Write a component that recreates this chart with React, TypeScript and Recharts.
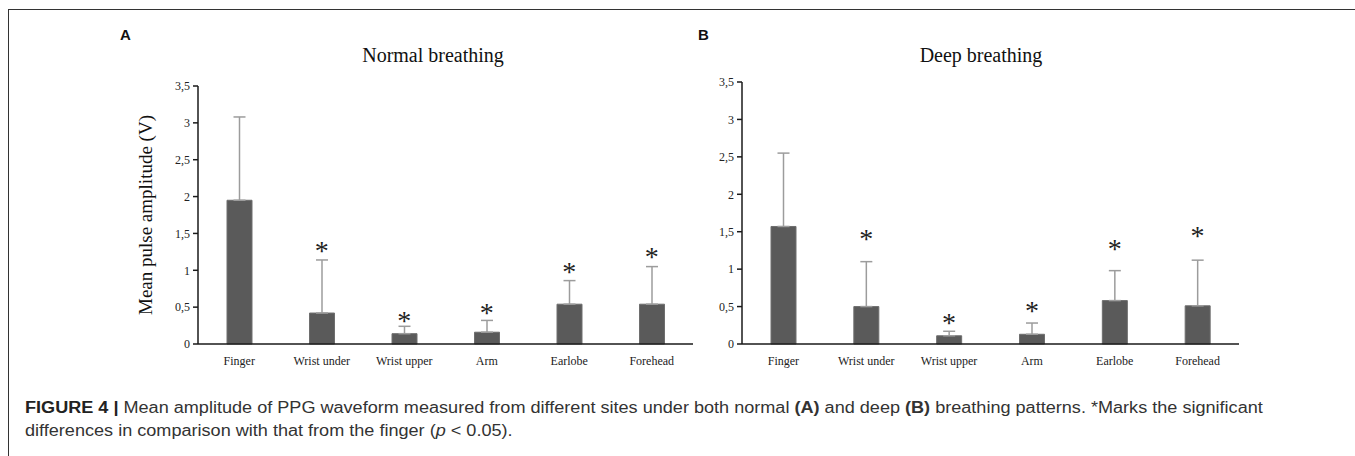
import React from "react";
import { ComposedChart, Bar, ErrorBar, Scatter, XAxis, YAxis } from "recharts";

const sites = ["Finger", "Wrist under", "Wrist upper", "Arm", "Earlobe", "Forehead"];

const normalMean = [1.95, 0.42, 0.14, 0.16, 0.54, 0.54];
const normalSd = [1.13, 0.72, 0.1, 0.16, 0.32, 0.51];
// where the "*" sits (y value of the glyph centre)
const normalStar = [null, 1.31, 0.37, 0.47, 1.03, 1.23];

const deepMean = [1.57, 0.5, 0.11, 0.13, 0.58, 0.51];
const deepSd = [0.98, 0.6, 0.06, 0.15, 0.4, 0.61];
const deepStar = [null, 1.45, 0.34, 0.49, 1.32, 1.49];

const yTicks = [0, 0.5, 1, 1.5, 2, 2.5, 3, 3.5];
const yTickLabels = ["0", "0,5", "1", "1,5", "2", "2,5", "3", "3,5"];

const SERIF = '"Liberation Serif", "Times New Roman", serif';
const SANS = '"Liberation Sans", Arial, sans-serif';
const BAR = "#5a5a5a";
const ERR = "#9c9c9c";
const AXIS = "#1a1a1a";

function buildRows(mean: number[], sd: number[], star: (number | null)[]) {
  return sites.map((name, i) => ({
    name,
    mean: mean[i],
    err: [0, sd[i]],
    star: star[i],
  }));
}

const Star = (props: any) => {
  const { cx, cy, payload } = props;
  if (payload == null || payload.star == null) return <g />;
  return (
    <text x={cx} y={cy + 13} textAnchor="middle" fontFamily={SERIF} fontSize={28} fill="#222">
      *
    </text>
  );
};

function Panel({
  rows,
  width,
  margin,
  yLabel,
}: {
  rows: any[];
  width: number;
  margin: { top: number; right: number; bottom: number; left: number };
  yLabel?: string;
}) {
  return (
    <ComposedChart width={width} height={380} data={rows} margin={margin}>
      <XAxis
        dataKey="name"
        axisLine={{ stroke: AXIS, strokeWidth: 1.5 }}
        tickLine={false}
        tickSize={0}
        tickMargin={12}
        height={30}
        interval={0}
        tick={{ fill: "#222", fontSize: 12, fontFamily: SERIF }}
      />
      <YAxis
        domain={[0, 3.5]}
        ticks={yTicks}
        width={60}
        interval={0}
        axisLine={{ stroke: AXIS, strokeWidth: 1.5 }}
        tickLine={{ stroke: AXIS, strokeWidth: 1.5 }}
        tickSize={5}
        tickMargin={3}
        tickFormatter={(v: number) => yTickLabels[yTicks.indexOf(v)]}
        tick={{ fill: "#222", fontSize: 12, fontFamily: SERIF }}
        label={
          yLabel
            ? {
                value: yLabel,
                angle: -90,
                position: "insideLeft",
                offset: 7,
                style: { textAnchor: "middle", fontFamily: SERIF, fontSize: 19, fill: "#111" },
              }
            : undefined
        }
      />
      <Bar dataKey="mean" fill={BAR} stroke="#6e6e6e" strokeWidth={1} barSize={25} isAnimationActive={false}>
        <ErrorBar dataKey="err" direction="y" width={6} stroke={ERR} strokeWidth={1.5} />
      </Bar>
      <Scatter dataKey="star" shape={<Star />} isAnimationActive={false} />
    </ComposedChart>
  );
}

export default function App() {
  const normalRows = buildRows(normalMean, normalSd, normalStar);
  const deepRows = buildRows(deepMean, deepSd, deepStar);

  const abs = (left: number, top: number): React.CSSProperties => ({ position: "absolute", left, top });

  return (
    <div style={{ position: "absolute", left: 0, top: 0, width: 1355, height: 456, background: "#fff", overflow: "hidden" }}>
      {/* frame */}
      <div style={{ position: "absolute", left: 8, top: 9, width: 1347, height: 1, background: "#333" }} />
      <div style={{ position: "absolute", left: 8, top: 9, width: 1, height: 447, background: "#333" }} />

      <div style={{ ...abs(0, 0) }}>
        <Panel
          rows={normalRows}
          width={700}
          margin={{ top: 86, right: 7, bottom: 6, left: 138 }}
          yLabel="Mean pulse amplitude (V)"
        />
      </div>
      <div style={{ ...abs(600, 0) }}>
        <Panel rows={deepRows} width={660} margin={{ top: 82, right: 21, bottom: 6, left: 82 }} />
      </div>

      <div style={{ ...abs(120, 26), fontFamily: SANS, fontWeight: 700, fontSize: 15, color: "#111" }}>A</div>
      <div style={{ ...abs(698, 26), fontFamily: SANS, fontWeight: 700, fontSize: 15, color: "#111" }}>B</div>

      <div style={{ ...abs(433, 44), transform: "translateX(-50%)", fontFamily: SERIF, fontSize: 20, color: "#111", whiteSpace: "nowrap" }}>
        Normal breathing
      </div>
      <div style={{ ...abs(981, 44), transform: "translateX(-50%)", fontFamily: SERIF, fontSize: 20, color: "#111", whiteSpace: "nowrap" }}>
        Deep breathing
      </div>

      <div
        style={{
          ...abs(25, 396),
          fontFamily: SANS,
          fontSize: 16,
          lineHeight: "23px",
          color: "#333",
          whiteSpace: "nowrap",
          transform: "scaleX(1.13)",
          transformOrigin: "0 0",
        }}
      >
        <div>
          <b style={{ color: "#222" }}>FIGURE 4 |</b> Mean amplitude of PPG waveform measured from different sites under both normal{" "}
          <b>(A)</b> and deep <b>(B)</b> breathing patterns. *Marks the significant
        </div>
        <div>
          differences in comparison with that from the finger (<i>p</i> &lt; 0.05).
        </div>
      </div>
    </div>
  );
}
